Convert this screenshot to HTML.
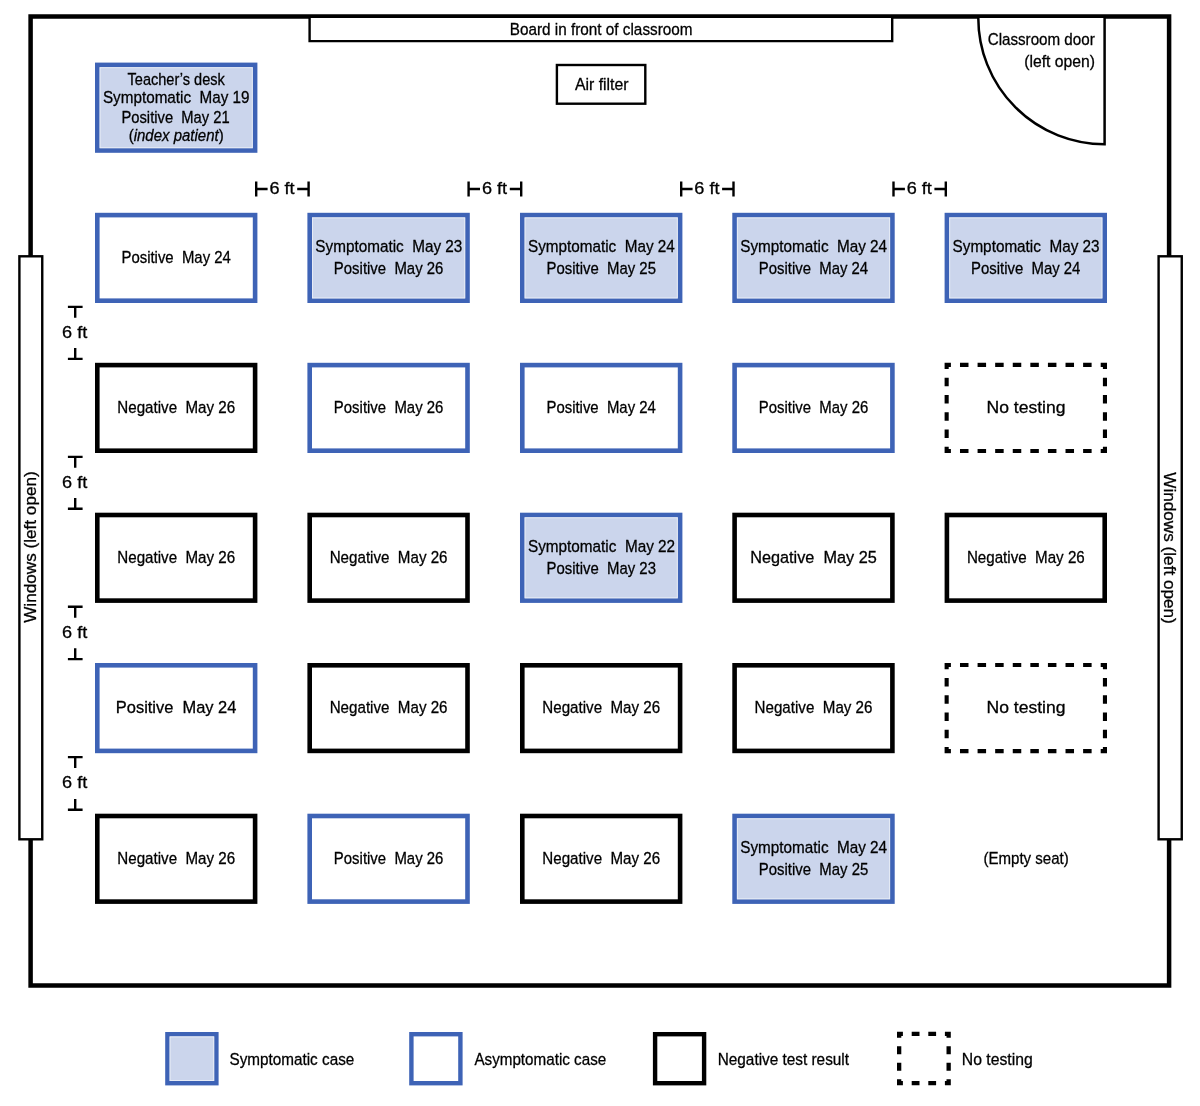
<!DOCTYPE html>
<html><head><meta charset="utf-8"><title>Classroom seating chart</title>
<style>
html,body{margin:0;padding:0;background:#fff;}
body{width:1200px;height:1106px;overflow:hidden;}
svg{display:block;will-change:transform;}
svg text{font-family:"Liberation Sans", sans-serif;fill:#000;white-space:pre;stroke:#000;stroke-width:0.3px;}
</style></head><body>
<svg width="1200" height="1106" viewBox="0 0 1200 1106">
<rect x="0" y="0" width="1200" height="1106" fill="#fff"/>
<path d="M30.6,256.3 L30.6,16.6 L1169.1,16.6 L1169.1,256.3" fill="none" stroke="#000" stroke-width="4.5" stroke-linejoin="miter"/>
<path d="M30.6,839.3 L30.6,985.4 L1169.1,985.4 L1169.1,839.3" fill="none" stroke="#000" stroke-width="4.5" stroke-linejoin="miter"/>
<rect x="19.4" y="256.3" width="22.85" height="583.00" fill="#fff" stroke="#000" stroke-width="2.4"/>
<rect x="1158.6" y="256.3" width="23.15" height="583.00" fill="#fff" stroke="#000" stroke-width="2.4"/>
<text transform="rotate(-90)" x="-622.84" y="36.20" font-size="17.2" textLength="151.55" lengthAdjust="spacingAndGlyphs">Windows (left open)</text>
<text transform="rotate(90)" x="472.26" y="-1164.40" font-size="17.2" textLength="151.55" lengthAdjust="spacingAndGlyphs">Windows (left open)</text>
<path d="M309.6,17.9 L309.6,41.1 L892.2,41.1 L892.2,17.9" fill="#fff" stroke="#000" stroke-width="2.4"/>
<text x="509.73" y="34.70" font-size="17.2" textLength="182.82" lengthAdjust="spacingAndGlyphs">Board in front of classroom</text>
<rect x="556.9" y="65" width="88.40" height="38.70" fill="#fff" stroke="#000" stroke-width="2.4"/>
<text x="574.95" y="89.80" font-size="17.2" textLength="53.61" lengthAdjust="spacingAndGlyphs">Air filter</text>
<path d="M978.3,17.9 A126.3,126.3 0 0 0 1104.6,144.2 L1104.6,17.9" fill="#fff" stroke="#000" stroke-width="2.5"/>
<text x="987.69" y="44.80" font-size="17.2" textLength="107.04" lengthAdjust="spacingAndGlyphs">Classroom door</text>
<text x="1024.21" y="66.60" font-size="17.2" textLength="70.83" lengthAdjust="spacingAndGlyphs">(left open)</text>
<rect x="97.30" y="64.90" width="157.80" height="85.60" fill="#cbd5ec" stroke="#3e63b6" stroke-width="4.6"/>
<rect x="100.10" y="67.70" width="152.20" height="80.00" fill="none" stroke="#e6ebf6" stroke-width="1"/>
<text x="127.56" y="84.70" font-size="17.2" textLength="97.28" lengthAdjust="spacingAndGlyphs">Teacher’s desk</text>
<text x="102.96" y="103.30" font-size="17.2" textLength="146.56" lengthAdjust="spacingAndGlyphs">Symptomatic  May 19</text>
<text x="121.47" y="122.50" font-size="17.2" textLength="108.17" lengthAdjust="spacingAndGlyphs">Positive  May 21</text>
<text x="128.65" y="141.10" font-size="17.2" textLength="95.03" lengthAdjust="spacingAndGlyphs">(<tspan font-style="italic">index patient</tspan>)</text>
<rect x="97.30" y="215.10" width="157.80" height="85.60" fill="#fff" stroke="#3e63b6" stroke-width="4.6"/>
<text x="121.46" y="263.00" font-size="17.2" textLength="109.36" lengthAdjust="spacingAndGlyphs">Positive  May 24</text>
<rect x="309.70" y="215.10" width="157.80" height="85.60" fill="#cbd5ec" stroke="#3e63b6" stroke-width="4.6"/>
<rect x="312.50" y="217.90" width="152.20" height="80.00" fill="none" stroke="#e6ebf6" stroke-width="1"/>
<text x="315.36" y="251.80" font-size="17.2" textLength="146.99" lengthAdjust="spacingAndGlyphs">Symptomatic  May 23</text>
<text x="333.86" y="274.30" font-size="17.2" textLength="109.51" lengthAdjust="spacingAndGlyphs">Positive  May 26</text>
<rect x="522.30" y="215.10" width="157.80" height="85.60" fill="#cbd5ec" stroke="#3e63b6" stroke-width="4.6"/>
<rect x="525.10" y="217.90" width="152.20" height="80.00" fill="none" stroke="#e6ebf6" stroke-width="1"/>
<text x="527.96" y="251.80" font-size="17.2" textLength="146.84" lengthAdjust="spacingAndGlyphs">Symptomatic  May 24</text>
<text x="546.46" y="274.30" font-size="17.2" textLength="109.51" lengthAdjust="spacingAndGlyphs">Positive  May 25</text>
<rect x="734.60" y="215.10" width="157.80" height="85.60" fill="#cbd5ec" stroke="#3e63b6" stroke-width="4.6"/>
<rect x="737.40" y="217.90" width="152.20" height="80.00" fill="none" stroke="#e6ebf6" stroke-width="1"/>
<text x="740.26" y="251.80" font-size="17.2" textLength="146.84" lengthAdjust="spacingAndGlyphs">Symptomatic  May 24</text>
<text x="758.76" y="274.30" font-size="17.2" textLength="109.36" lengthAdjust="spacingAndGlyphs">Positive  May 24</text>
<rect x="946.90" y="215.10" width="157.80" height="85.60" fill="#cbd5ec" stroke="#3e63b6" stroke-width="4.6"/>
<rect x="949.70" y="217.90" width="152.20" height="80.00" fill="none" stroke="#e6ebf6" stroke-width="1"/>
<text x="952.56" y="251.80" font-size="17.2" textLength="146.99" lengthAdjust="spacingAndGlyphs">Symptomatic  May 23</text>
<text x="971.06" y="274.30" font-size="17.2" textLength="109.36" lengthAdjust="spacingAndGlyphs">Positive  May 24</text>
<rect x="97.30" y="365.10" width="157.80" height="85.60" fill="#fff" stroke="#000" stroke-width="4.6"/>
<text x="117.29" y="413.00" font-size="17.2" textLength="117.85" lengthAdjust="spacingAndGlyphs">Negative  May 26</text>
<rect x="309.70" y="365.10" width="157.80" height="85.60" fill="#fff" stroke="#3e63b6" stroke-width="4.6"/>
<text x="333.86" y="413.00" font-size="17.2" textLength="109.51" lengthAdjust="spacingAndGlyphs">Positive  May 26</text>
<rect x="522.30" y="365.10" width="157.80" height="85.60" fill="#fff" stroke="#3e63b6" stroke-width="4.6"/>
<text x="546.46" y="413.00" font-size="17.2" textLength="109.36" lengthAdjust="spacingAndGlyphs">Positive  May 24</text>
<rect x="734.60" y="365.10" width="157.80" height="85.60" fill="#fff" stroke="#3e63b6" stroke-width="4.6"/>
<text x="758.76" y="413.00" font-size="17.2" textLength="109.51" lengthAdjust="spacingAndGlyphs">Positive  May 26</text>
<path d="M944.60,362.80h6.30v4.10h-6.30zM944.60,362.80h4.10v6.30h-4.10zM1100.70,362.80h6.30v4.10h-6.30zM1102.90,362.80h4.10v6.30h-4.10zM944.60,448.90h6.30v4.10h-6.30zM944.60,446.70h4.10v6.30h-4.10zM1100.70,448.90h6.30v4.10h-6.30zM1102.90,446.70h4.10v6.30h-4.10zM959.99,362.80h8.50v4.10h-8.50zM959.99,448.90h8.50v4.10h-8.50zM977.58,362.80h8.50v4.10h-8.50zM977.58,448.90h8.50v4.10h-8.50zM995.17,362.80h8.50v4.10h-8.50zM995.17,448.90h8.50v4.10h-8.50zM1012.76,362.80h8.50v4.10h-8.50zM1012.76,448.90h8.50v4.10h-8.50zM1030.34,362.80h8.50v4.10h-8.50zM1030.34,448.90h8.50v4.10h-8.50zM1047.93,362.80h8.50v4.10h-8.50zM1047.93,448.90h8.50v4.10h-8.50zM1065.52,362.80h8.50v4.10h-8.50zM1065.52,448.90h8.50v4.10h-8.50zM1083.11,362.80h8.50v4.10h-8.50zM1083.11,448.90h8.50v4.10h-8.50zM944.60,377.82h4.10v8.50h-4.10zM1102.90,377.82h4.10v8.50h-4.10zM944.60,395.04h4.10v8.50h-4.10zM1102.90,395.04h4.10v8.50h-4.10zM944.60,412.26h4.10v8.50h-4.10zM1102.90,412.26h4.10v8.50h-4.10zM944.60,429.48h4.10v8.50h-4.10zM1102.90,429.48h4.10v8.50h-4.10z" fill="#000"/>
<text x="986.50" y="413.00" font-size="17.2" textLength="78.99" lengthAdjust="spacingAndGlyphs">No testing</text>
<rect x="97.30" y="515.00" width="157.80" height="85.60" fill="#fff" stroke="#000" stroke-width="4.6"/>
<text x="117.29" y="562.90" font-size="17.2" textLength="117.85" lengthAdjust="spacingAndGlyphs">Negative  May 26</text>
<rect x="309.70" y="515.00" width="157.80" height="85.60" fill="#fff" stroke="#000" stroke-width="4.6"/>
<text x="329.69" y="562.90" font-size="17.2" textLength="117.85" lengthAdjust="spacingAndGlyphs">Negative  May 26</text>
<rect x="522.30" y="515.00" width="157.80" height="85.60" fill="#cbd5ec" stroke="#3e63b6" stroke-width="4.6"/>
<rect x="525.10" y="517.80" width="152.20" height="80.00" fill="none" stroke="#e6ebf6" stroke-width="1"/>
<text x="527.96" y="551.70" font-size="17.2" textLength="147.15" lengthAdjust="spacingAndGlyphs">Symptomatic  May 22</text>
<text x="546.46" y="574.20" font-size="17.2" textLength="109.51" lengthAdjust="spacingAndGlyphs">Positive  May 23</text>
<rect x="734.60" y="515.00" width="157.80" height="85.60" fill="#fff" stroke="#000" stroke-width="4.6"/>
<text x="750.25" y="562.90" font-size="17.2" textLength="126.48" lengthAdjust="spacingAndGlyphs">Negative  May 25</text>
<rect x="946.90" y="515.00" width="157.80" height="85.60" fill="#fff" stroke="#000" stroke-width="4.6"/>
<text x="966.89" y="562.90" font-size="17.2" textLength="117.85" lengthAdjust="spacingAndGlyphs">Negative  May 26</text>
<rect x="97.30" y="665.30" width="157.80" height="85.60" fill="#fff" stroke="#3e63b6" stroke-width="4.6"/>
<text x="115.84" y="713.20" font-size="17.2" textLength="120.53" lengthAdjust="spacingAndGlyphs">Positive  May 24</text>
<rect x="309.70" y="665.30" width="157.80" height="85.60" fill="#fff" stroke="#000" stroke-width="4.6"/>
<text x="329.69" y="713.20" font-size="17.2" textLength="117.85" lengthAdjust="spacingAndGlyphs">Negative  May 26</text>
<rect x="522.30" y="665.30" width="157.80" height="85.60" fill="#fff" stroke="#000" stroke-width="4.6"/>
<text x="542.29" y="713.20" font-size="17.2" textLength="117.85" lengthAdjust="spacingAndGlyphs">Negative  May 26</text>
<rect x="734.60" y="665.30" width="157.80" height="85.60" fill="#fff" stroke="#000" stroke-width="4.6"/>
<text x="754.59" y="713.20" font-size="17.2" textLength="117.85" lengthAdjust="spacingAndGlyphs">Negative  May 26</text>
<path d="M944.60,663.00h6.30v4.10h-6.30zM944.60,663.00h4.10v6.30h-4.10zM1100.70,663.00h6.30v4.10h-6.30zM1102.90,663.00h4.10v6.30h-4.10zM944.60,749.10h6.30v4.10h-6.30zM944.60,746.90h4.10v6.30h-4.10zM1100.70,749.10h6.30v4.10h-6.30zM1102.90,746.90h4.10v6.30h-4.10zM959.99,663.00h8.50v4.10h-8.50zM959.99,749.10h8.50v4.10h-8.50zM977.58,663.00h8.50v4.10h-8.50zM977.58,749.10h8.50v4.10h-8.50zM995.17,663.00h8.50v4.10h-8.50zM995.17,749.10h8.50v4.10h-8.50zM1012.76,663.00h8.50v4.10h-8.50zM1012.76,749.10h8.50v4.10h-8.50zM1030.34,663.00h8.50v4.10h-8.50zM1030.34,749.10h8.50v4.10h-8.50zM1047.93,663.00h8.50v4.10h-8.50zM1047.93,749.10h8.50v4.10h-8.50zM1065.52,663.00h8.50v4.10h-8.50zM1065.52,749.10h8.50v4.10h-8.50zM1083.11,663.00h8.50v4.10h-8.50zM1083.11,749.10h8.50v4.10h-8.50zM944.60,678.02h4.10v8.50h-4.10zM1102.90,678.02h4.10v8.50h-4.10zM944.60,695.24h4.10v8.50h-4.10zM1102.90,695.24h4.10v8.50h-4.10zM944.60,712.46h4.10v8.50h-4.10zM1102.90,712.46h4.10v8.50h-4.10zM944.60,729.68h4.10v8.50h-4.10zM1102.90,729.68h4.10v8.50h-4.10z" fill="#000"/>
<text x="986.50" y="713.20" font-size="17.2" textLength="78.99" lengthAdjust="spacingAndGlyphs">No testing</text>
<rect x="97.30" y="816.00" width="157.80" height="85.60" fill="#fff" stroke="#000" stroke-width="4.6"/>
<text x="117.29" y="863.90" font-size="17.2" textLength="117.85" lengthAdjust="spacingAndGlyphs">Negative  May 26</text>
<rect x="309.70" y="816.00" width="157.80" height="85.60" fill="#fff" stroke="#3e63b6" stroke-width="4.6"/>
<text x="333.86" y="863.90" font-size="17.2" textLength="109.51" lengthAdjust="spacingAndGlyphs">Positive  May 26</text>
<rect x="522.30" y="816.00" width="157.80" height="85.60" fill="#fff" stroke="#000" stroke-width="4.6"/>
<text x="542.29" y="863.90" font-size="17.2" textLength="117.85" lengthAdjust="spacingAndGlyphs">Negative  May 26</text>
<rect x="734.60" y="816.00" width="157.80" height="85.60" fill="#cbd5ec" stroke="#3e63b6" stroke-width="4.6"/>
<rect x="737.40" y="818.80" width="152.20" height="80.00" fill="none" stroke="#e6ebf6" stroke-width="1"/>
<text x="740.26" y="852.70" font-size="17.2" textLength="146.84" lengthAdjust="spacingAndGlyphs">Symptomatic  May 24</text>
<text x="758.76" y="875.20" font-size="17.2" textLength="109.51" lengthAdjust="spacingAndGlyphs">Positive  May 25</text>
<text x="983.45" y="863.90" font-size="17.2" textLength="85.35" lengthAdjust="spacingAndGlyphs">(Empty seat)</text>
<path d="M256.20,181.6 V196.5 M308.60,181.6 V196.5" stroke="#000" stroke-width="2.4" fill="none"/>
<path d="M256.20,189 H267.60 M308.60,189 H297.20" stroke="#000" stroke-width="2.4" fill="none"/>
<text x="269.44" y="194.20" font-size="17.2" textLength="25.18" lengthAdjust="spacingAndGlyphs">6 ft</text>
<path d="M468.60,181.6 V196.5 M521.20,181.6 V196.5" stroke="#000" stroke-width="2.4" fill="none"/>
<path d="M468.60,189 H480.00 M521.20,189 H509.80" stroke="#000" stroke-width="2.4" fill="none"/>
<text x="481.94" y="194.20" font-size="17.2" textLength="25.18" lengthAdjust="spacingAndGlyphs">6 ft</text>
<path d="M681.20,181.6 V196.5 M733.50,181.6 V196.5" stroke="#000" stroke-width="2.4" fill="none"/>
<path d="M681.20,189 H692.60 M733.50,189 H722.10" stroke="#000" stroke-width="2.4" fill="none"/>
<text x="694.39" y="194.20" font-size="17.2" textLength="25.18" lengthAdjust="spacingAndGlyphs">6 ft</text>
<path d="M893.50,181.6 V196.5 M945.80,181.6 V196.5" stroke="#000" stroke-width="2.4" fill="none"/>
<path d="M893.50,189 H904.90 M945.80,189 H934.40" stroke="#000" stroke-width="2.4" fill="none"/>
<text x="906.69" y="194.20" font-size="17.2" textLength="25.18" lengthAdjust="spacingAndGlyphs">6 ft</text>
<path d="M67.9,306.90 H82.6 M75.2,306.90 V317.80 M67.9,358.90 H82.6 M75.2,358.90 V348.00" stroke="#000" stroke-width="2.4" fill="none"/>
<text x="62.04" y="337.90" font-size="17.2" textLength="25.18" lengthAdjust="spacingAndGlyphs">6 ft</text>
<path d="M67.9,456.90 H82.6 M75.2,456.90 V467.80 M67.9,508.80 H82.6 M75.2,508.80 V497.90" stroke="#000" stroke-width="2.4" fill="none"/>
<text x="62.04" y="487.90" font-size="17.2" textLength="25.18" lengthAdjust="spacingAndGlyphs">6 ft</text>
<path d="M67.9,606.80 H82.6 M75.2,606.80 V617.70 M67.9,659.10 H82.6 M75.2,659.10 V648.20" stroke="#000" stroke-width="2.4" fill="none"/>
<text x="62.04" y="637.80" font-size="17.2" textLength="25.18" lengthAdjust="spacingAndGlyphs">6 ft</text>
<path d="M67.9,757.10 H82.6 M75.2,757.10 V768.00 M67.9,809.80 H82.6 M75.2,809.80 V798.90" stroke="#000" stroke-width="2.4" fill="none"/>
<text x="62.04" y="788.10" font-size="17.2" textLength="25.18" lengthAdjust="spacingAndGlyphs">6 ft</text>
<rect x="167.40" y="1034.20" width="49.00" height="49.00" fill="#cbd5ec" stroke="#3e63b6" stroke-width="4.4"/>
<rect x="170.10" y="1036.90" width="43.60" height="43.60" fill="none" stroke="#e6ebf6" stroke-width="1"/>
<text x="229.46" y="1064.50" font-size="17.2" textLength="124.82" lengthAdjust="spacingAndGlyphs">Symptomatic case</text>
<rect x="411.40" y="1034.20" width="49.00" height="49.00" fill="#fff" stroke="#3e63b6" stroke-width="4.4"/>
<text x="474.40" y="1064.80" font-size="17.2" textLength="131.83" lengthAdjust="spacingAndGlyphs">Asymptomatic case</text>
<rect x="655.10" y="1034.20" width="49.00" height="49.00" fill="#fff" stroke="#000" stroke-width="4.4"/>
<text x="717.72" y="1064.80" font-size="17.2" textLength="131.28" lengthAdjust="spacingAndGlyphs">Negative test result</text>
<path d="M897.00,1031.80h5.90v4.30h-5.90zM897.00,1031.80h4.30v5.90h-4.30zM944.90,1031.80h5.90v4.30h-5.90zM946.50,1031.80h4.30v5.90h-4.30zM897.00,1080.90h5.90v4.30h-5.90zM897.00,1079.30h4.30v5.90h-4.30zM944.90,1080.90h5.90v4.30h-5.90zM946.50,1079.30h4.30v5.90h-4.30zM911.70,1031.80h7.80v4.30h-7.80zM911.70,1080.90h7.80v4.30h-7.80zM928.30,1031.80h7.80v4.30h-7.80zM928.30,1080.90h7.80v4.30h-7.80zM897.00,1046.37h4.30v7.80h-4.30zM946.50,1046.37h4.30v7.80h-4.30zM897.00,1062.83h4.30v7.80h-4.30zM946.50,1062.83h4.30v7.80h-4.30z" fill="#000"/>
<text x="961.79" y="1064.70" font-size="17.2" textLength="70.92" lengthAdjust="spacingAndGlyphs">No testing</text>
</svg>
</body></html>
